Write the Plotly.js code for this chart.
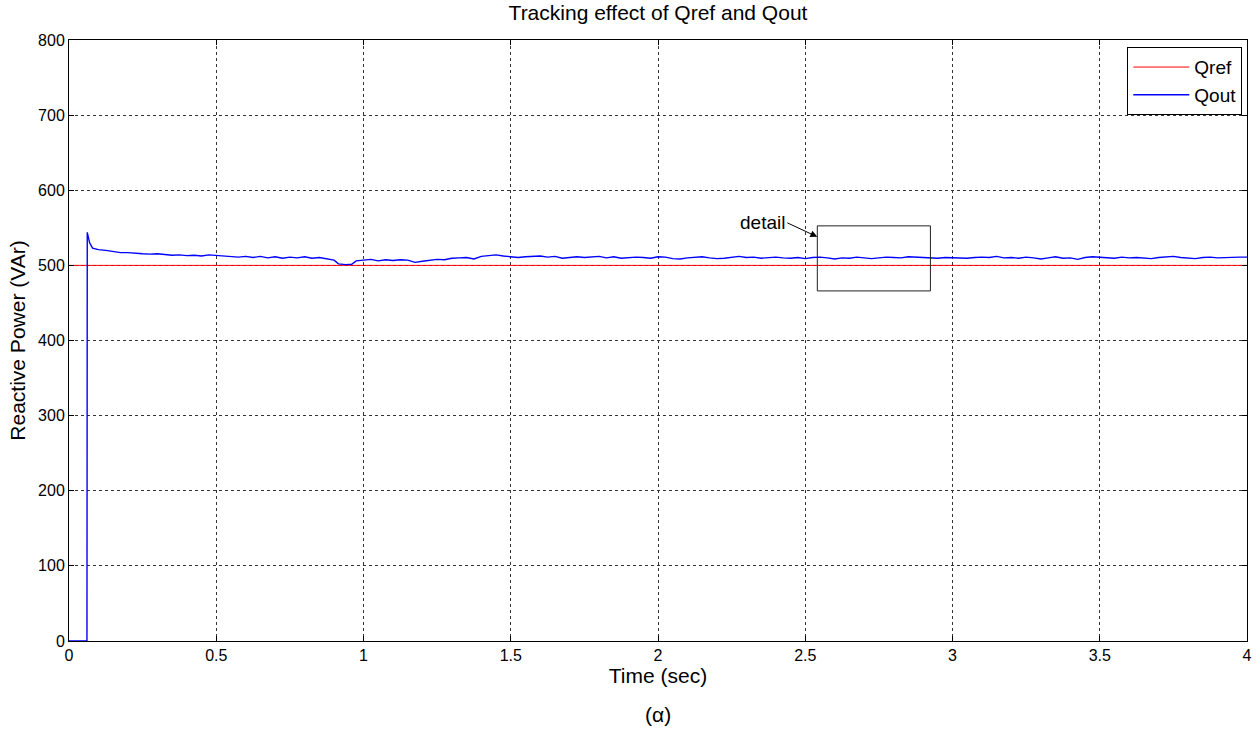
<!DOCTYPE html>
<html>
<head>
<meta charset="utf-8">
<script src="https://cdn.plot.ly/plotly-3.0.1.min.js"></script>
<style>
  html, body { margin: 0; padding: 0; background: #fff; }
  #chart { width: 1260px; height: 731px; }
</style>
</head>
<body>
<div id="chart"></div>
<script>
// Reference reactive power (VAr)
const refTime = [0, 4];
const refValue = [500, 500];

// Measured output reactive power (VAr) over time (sec)
const outTime = [
  0, 0.061, 0.062, 0.07, 0.08, 0.1, 0.125, 0.15, 0.175, 0.2, 0.225, 0.25, 0.275, 0.3,
  0.325, 0.35, 0.375, 0.4, 0.425, 0.45, 0.475, 0.5, 0.525, 0.55, 0.575, 0.6, 0.625,
  0.65, 0.675, 0.7, 0.725, 0.75, 0.775, 0.8, 0.825, 0.85, 0.875, 0.9, 0.915, 0.94,
  0.96, 0.975, 1.0, 1.025, 1.05, 1.075, 1.1, 1.125, 1.15, 1.175, 1.2, 1.225, 1.25,
  1.275, 1.3, 1.325, 1.35, 1.375, 1.4, 1.425, 1.45, 1.475, 1.5, 1.525, 1.55, 1.575,
  1.6, 1.625, 1.65, 1.675, 1.7, 1.725, 1.75, 1.775, 1.8, 1.825, 1.85, 1.875, 1.9,
  1.925, 1.95, 1.975, 2.0, 2.025, 2.05, 2.075, 2.1, 2.125, 2.15, 2.175, 2.2, 2.225,
  2.25, 2.275, 2.3, 2.325, 2.35, 2.375, 2.4, 2.425, 2.45, 2.475, 2.5, 2.525, 2.55,
  2.575, 2.6, 2.625, 2.65, 2.675, 2.7, 2.725, 2.75, 2.775, 2.8, 2.825, 2.85, 2.875,
  2.9, 2.925, 2.95, 2.975, 3.0, 3.025, 3.05, 3.075, 3.1, 3.125, 3.15, 3.175, 3.2,
  3.225, 3.25, 3.275, 3.3, 3.325, 3.35, 3.375, 3.4, 3.425, 3.45, 3.475, 3.5, 3.525,
  3.55, 3.575, 3.6, 3.625, 3.65, 3.675, 3.7, 3.725, 3.75, 3.775, 3.8, 3.825, 3.85,
  3.875, 3.9, 3.925, 3.95, 3.975, 4.0
];
const outValue = [
  0, 0, 544, 530, 523, 521, 520, 518.5, 517, 517, 516, 515.5, 515, 515.5,
  514.5, 513.5, 514, 513, 513.5, 512.5, 514, 513, 513, 511.5, 511, 512, 510.5,
  512, 510, 511.5, 509.5, 511, 510, 511.5, 509.5, 510.5, 509, 507, 502, 501,
  501.5, 506, 507, 508, 506, 507.5, 506.5, 507.5, 507, 504, 505.5, 506.5, 508,
  507.5, 509.5, 510, 510.5, 508.5, 512, 513, 514, 512.5, 512, 510.5, 511.5, 512,
  512.5, 511, 512, 509.5, 510.5, 511.5, 510.5, 511, 512, 510, 511.5, 509.5, 510,
  511, 510.5, 509.5, 511.5, 511, 509, 508.5, 510, 510.5, 511.5, 510, 509, 509.5,
  510.5, 512, 510.5, 511, 509.5, 510, 511, 510, 509.5, 510.5, 509, 510.5, 511,
  510, 508.5, 510, 509.5, 511, 510.5, 509, 510, 511, 510.5, 510, 511.5, 511,
  510, 510.5, 509.5, 510.5, 510, 510.5, 509.5, 510.5, 511, 510.5, 512, 510, 510.5,
  509.5, 511, 510, 508.5, 510, 511.5, 509.5, 510, 508, 510.5, 511.5, 510.5, 510,
  509.5, 511, 510, 510.5, 509.5, 509, 510.5, 511, 512, 510.5, 510, 509, 510.5,
  511, 510, 510.5, 511.5, 511, 511
];

const xTicks = [0, 0.5, 1, 1.5, 2, 2.5, 3, 3.5, 4];
const yTicks = [0, 100, 200, 300, 400, 500, 600, 700, 800];

// Zoom-in window marked on the steady-state section
const detailBox = { t0: 2.541, t1: 2.925, q0: 466, q1: 552.6 };

const font = 'Arial, "Liberation Sans", Helvetica, sans-serif';

const traces = [
  {
    x: refTime, y: refValue, name: 'Qref', mode: 'lines',
    line: { color: '#ff0000', width: 1 }
  },
  {
    x: outTime, y: outValue, name: 'Qout', mode: 'lines',
    line: { color: '#0000ff', width: 1.4 }
  }
];

const axisCommon = {
  showline: true, mirror: 'ticks', linecolor: '#000', linewidth: 1,
  ticks: 'inside', ticklen: 5, tickcolor: '#000', tickwidth: 1,
  showgrid: true, gridcolor: '#333', gridwidth: 1, griddash: '3px,3px',
  zeroline: false, tickfont: { family: font, size: 16, color: '#000' }
};

const layout = {
  width: 1260, height: 731,
  margin: { l: 69, r: 13, t: 40, b: 90 },
  paper_bgcolor: '#fff', plot_bgcolor: '#fff',
  showlegend: true,
  title: {
    text: 'Tracking effect of Qref and Qout',
    font: { family: font, size: 21, color: '#000' },
    xref: 'paper', x: 0.5, xanchor: 'center', y: 0.983, yanchor: 'middle'
  },
  xaxis: Object.assign({}, axisCommon, {
    range: [0, 4], tickvals: xTicks, ticktext: xTicks.map(String),
    title: { text: 'Time (sec)', font: { family: font, size: 21, color: '#000' }, standoff: 2 }
  }),
  yaxis: Object.assign({}, axisCommon, {
    range: [0, 800], tickvals: yTicks, ticktext: yTicks.map(String),
    title: { text: 'Reactive Power (VAr)', font: { family: font, size: 21, color: '#000' }, standoff: 6 }
  }),
  legend: {
    x: 0.996, xanchor: 'right', y: 0.988, yanchor: 'top',
    bgcolor: '#fff', bordercolor: '#000', borderwidth: 1,
    font: { family: font, size: 19, color: '#000' },
    tracegroupgap: 0, itemwidth: 56
  },
  shapes: [
    {
      type: 'rect', xref: 'x', yref: 'y',
      x0: detailBox.t0, x1: detailBox.t1, y0: detailBox.q0, y1: detailBox.q1,
      line: { color: '#222', width: 1 }, fillcolor: 'rgba(0,0,0,0)'
    }
  ],
  annotations: [
    {
      x: detailBox.t0, y: 538, xref: 'x', yref: 'y',
      text: 'detail', showarrow: true, arrowhead: 2, arrowsize: 1.4, arrowwidth: 1,
      arrowcolor: '#000', ax: -30, ay: -14, xanchor: 'right',
      font: { family: font, size: 19, color: '#000' }
    },
    {
      x: 0.5, y: -0.123, xref: 'paper', yref: 'paper',
      text: '(\u03b1)', showarrow: false, yanchor: 'middle',
      font: { family: font, size: 21, color: '#000' }
    }
  ]
};

Plotly.newPlot('chart', traces, layout, { displayModeBar: false, staticPlot: true });
</script>
</body>
</html>
